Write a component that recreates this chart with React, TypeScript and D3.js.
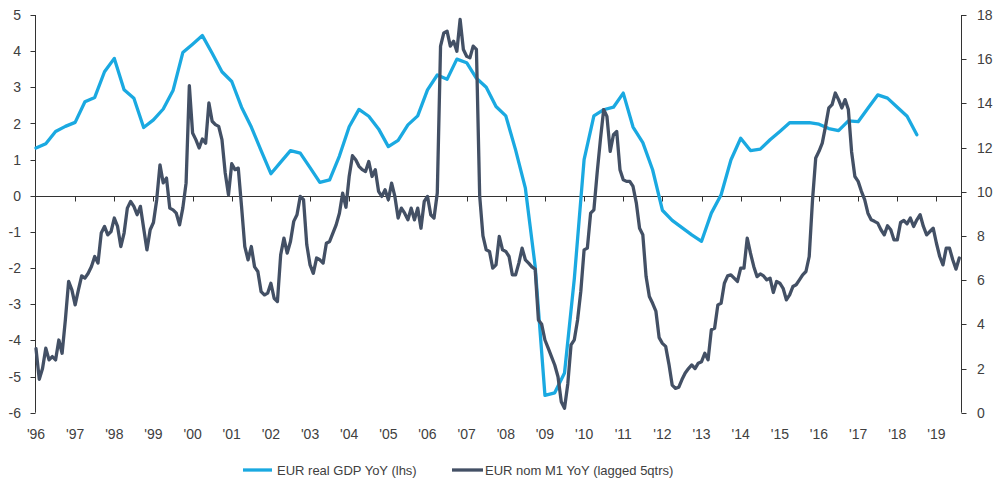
import React from "react";
import * as d3 from "d3";

const yearLabels = ["'96","'97","'98","'99","'00","'01","'02","'03","'04","'05","'06","'07","'08","'09","'10","'11","'12","'13","'14","'15","'16","'17","'18","'19"];
const leftTicks = [-6,-5,-4,-3,-2,-1,0,1,2,3,4,5];
const rightTicks = [0,2,4,6,8,10,12,14,16,18];

// EUR real GDP YoY, quarterly from 1996Q1 (lhs)
const gdpValues = [1.32,1.44,1.78,1.92,2.03,2.6,2.72,3.43,3.8,2.93,
  2.7,1.89,2.1,2.4,2.91,3.96,4.19,4.43,3.94,3.43,
  3.16,2.45,1.9,1.25,0.61,0.93,1.25,1.18,0.78,0.37,
  0.44,1.1,1.91,2.39,2.2,1.85,1.36,1.53,1.96,2.21,
  2.93,3.34,3.22,3.78,3.68,3.25,3.0,2.47,2.21,1.27,
  0.21,-1.95,-5.52,-5.45,-4.9,-2.3,1.0,2.21,2.38,2.45,
  2.84,1.9,1.47,0.72,-0.4,-0.68,-0.88,-1.08,-1.26,-0.48,
  0.03,0.99,1.59,1.25,1.29,1.55,1.78,2.02,2.02,2.02,
  1.98,1.86,1.8,2.07,2.05,2.42,2.79,2.7,2.45,2.2,1.69];

// EUR nom M1 YoY (lagged 5qtrs), monthly from Jan 1996 (rhs)
const m1Values = [
  2.9,1.51,2.0,2.92,2.39,2.54,2.39,3.29,2.69,4.2,5.94,5.56,
  4.88,5.56,6.19,6.09,6.31,6.62,7.07,6.77,8.13,8.43,8.05,8.2,
  8.81,8.43,7.52,8.13,9.26,9.56,9.34,8.96,9.34,8.35,7.37,8.28,
  8.61,9.64,11.22,10.4,10.62,9.26,9.18,9.03,8.5,9.26,10.39,14.8,
  12.66,12.36,11.98,12.39,12.2,14.02,13.19,13.04,12.96,12.36,10.85,9.86,
  11.27,11.0,11.07,9.34,7.52,6.92,7.52,6.6,6.39,5.48,5.33,5.41,
  5.86,5.18,5.03,7.15,7.9,7.22,7.75,8.66,8.96,9.79,9.64,7.6,
  6.69,6.31,7.0,6.92,6.77,7.67,7.75,8.13,8.5,9.03,9.94,9.3,
  10.7,11.63,11.45,11.15,11.0,10.92,11.37,10.69,11.0,10.02,9.79,10.09,
  9.64,10.39,9.79,8.81,9.26,9.03,8.73,9.26,8.73,9.26,8.35,9.56,
  9.79,8.96,8.81,9.94,16.59,17.19,17.27,16.59,16.81,16.36,17.8,16.44,
  16.13,16.06,16.59,16.44,9.8,8.0,7.37,7.3,6.54,6.69,7.98,7.37,
  7.3,7.07,6.24,6.24,6.77,7.45,6.92,6.77,6.6,6.5,4.2,4.0,
  3.29,2.92,2.54,2.16,1.63,0.5,0.2,1.3,3.07,3.3,4.2,5.5,
  7.37,7.45,9.03,9.18,10.85,12.36,13.72,13.41,11.83,12.58,12.73,11.0,
  10.54,10.47,10.47,10.24,9.5,8.35,8.05,6.16,5.26,4.95,4.6,3.4,
  3.14,3.0,2.2,1.25,1.1,1.15,1.5,1.8,2.0,2.16,2.0,2.24,
  2.31,2.69,2.39,3.75,3.82,4.88,4.95,5.86,6.19,6.24,6.09,5.94,
  6.54,6.54,7.9,7.22,6.62,6.16,6.28,6.19,6.01,6.09,5.44,5.94,
  5.86,5.63,5.11,5.33,5.71,5.79,6.01,6.24,6.39,7.07,9.6,11.53,
  11.83,12.2,12.96,13.79,13.94,14.47,14.17,13.79,14.17,13.72,11.8,10.69,
  10.47,10.02,9.64,9.03,8.73,8.66,8.58,8.28,8.05,8.46,8.28,7.82,
  7.82,8.61,8.7,8.55,8.81,8.43,8.73,8.96,8.43,8.05,8.2,8.35,
  7.67,7.07,6.69,7.45,7.45,6.92,6.5,7.0];

const legendLabels = ["EUR real GDP YoY (lhs)", "EUR nom M1 YoY (lagged 5qtrs)"];

const BLUE = "#1aa9e1";
const DARK = "#435065";
const AXIS = "#333333";
const TEXT = "#404040";
const FONT = "'Liberation Sans', Arial, sans-serif";

export default function App() {
  const W = 1003, H = 487;
  const axisL = 35.5, axisR = 961.5;
  const x = d3.scaleLinear().domain([1996, 2019.64]).range([36, 961.5]);
  const yL = d3.scaleLinear().domain([-6, 5]).range([412.7, 15]);
  const yR = d3.scaleLinear().domain([0, 18]).range([412.7, 15]);

  const gdpLine = d3.line<number>().x((_, i) => x(1996 + i / 4)).y((d) => yL(d));
  const m1Line = d3.line<number>().x((_, i) => x(1996 + i / 12)).y((d) => yR(d));

  const zeroY = yL(0);

  return (
    <svg width={W} height={H} style={{ position: "absolute", left: 0, top: 0, background: "#fff" }} fontFamily={FONT}>
      <rect width={W} height={H} fill="#fff" />
      {/* left axis */}
      <line x1={axisL} x2={axisL} y1={yL(5)} y2={yL(-6)} stroke={AXIS} strokeWidth={1} />
      {leftTicks.map((t) => (
        <g key={"l" + t}>
          <line x1={axisL - 5} x2={axisL} y1={Math.round(yL(t)) + 0.5} y2={Math.round(yL(t)) + 0.5} stroke={AXIS} />
          <text x={21} y={yL(t)} dy="0.36em" textAnchor="end" fontSize={14} fill={TEXT}>{t}</text>
        </g>
      ))}
      {/* right axis */}
      <line x1={axisR} x2={axisR} y1={yR(18)} y2={yR(0)} stroke={AXIS} strokeWidth={1} />
      {rightTicks.map((t) => (
        <g key={"r" + t}>
          <line x1={axisR} x2={axisR + 5} y1={Math.round(yR(t)) + 0.5} y2={Math.round(yR(t)) + 0.5} stroke={AXIS} />
          <text x={977} y={yR(t)} dy="0.36em" textAnchor="start" fontSize={14} fill={TEXT}>{t}</text>
        </g>
      ))}
      {/* zero line + x ticks */}
      <line x1={axisL} x2={axisR} y1={Math.round(zeroY) + 0.5} y2={Math.round(zeroY) + 0.5} stroke={AXIS} strokeWidth={1} />
      {yearLabels.map((lab, i) => {
        const xx = Math.round(x(1996 + i)) + 0.5;
        return (
          <g key={lab}>
            {i > 0 && <line x1={xx} x2={xx} y1={Math.round(zeroY) + 0.5} y2={Math.round(zeroY) + 5.5} stroke={AXIS} />}
            <text x={x(1996 + i)} y={439} textAnchor="middle" fontSize={14} fill={TEXT}>{lab}</text>
          </g>
        );
      })}
      {/* series */}
      <path d={gdpLine(gdpValues) || ""} fill="none" stroke={BLUE} strokeWidth={3.3} strokeLinejoin="round" strokeLinecap="round" />
      <path d={m1Line(m1Values) || ""} fill="none" stroke={DARK} strokeWidth={3.3} strokeLinejoin="round" strokeLinecap="round" />
      {/* legend */}
      <line x1={243} x2={272} y1={470} y2={470} stroke={BLUE} strokeWidth={3.3} />
      <text x={277} y={470} dy="0.36em" fontSize={13} fill={TEXT}>{legendLabels[0]}</text>
      <line x1={452} x2={483} y1={470} y2={470} stroke={DARK} strokeWidth={3.3} />
      <text x={485} y={470} dy="0.36em" fontSize={13} fill={TEXT}>{legendLabels[1]}</text>
    </svg>
  );
}
